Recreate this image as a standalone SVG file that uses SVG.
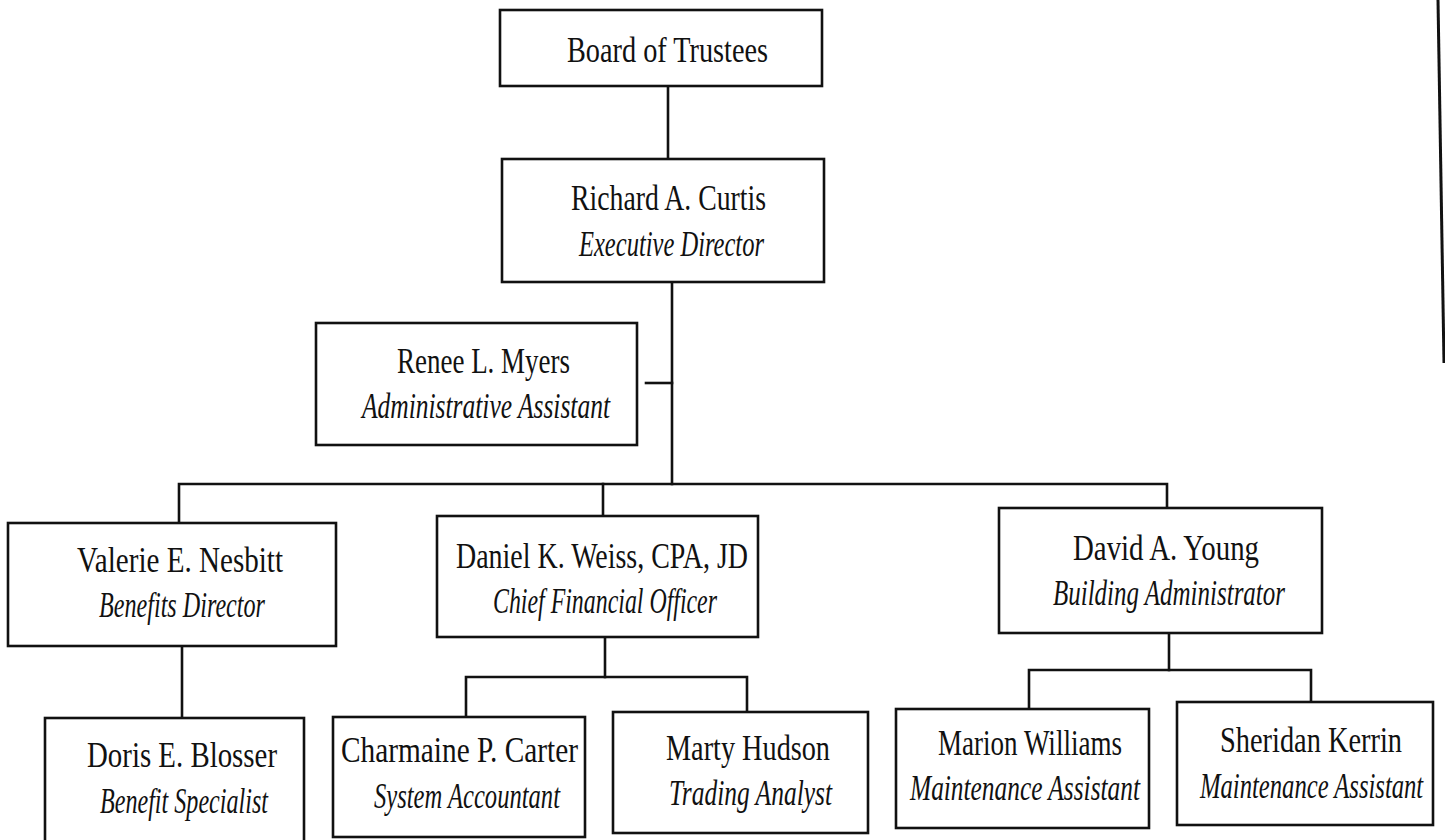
<svg xmlns="http://www.w3.org/2000/svg" width="1445" height="840" viewBox="0 0 1445 840">
<style>
.box{fill:#fff;stroke:#111;stroke-width:2.6}
.con{stroke:#111;stroke-width:2.6;fill:none;stroke-linecap:square}
.n{font-family:"Liberation Serif","Times New Roman",serif;font-size:35px;fill:#111}
.t{font-family:"Liberation Serif","Times New Roman",serif;font-size:35px;font-style:italic;fill:#111}
</style>
<rect width="1445" height="840" fill="#fff"/>
<g id="connectors">
<path class="con" d="M668,86V159"/>
<path class="con" d="M672,282V484"/>
<path class="con" d="M646,383H672"/>
<path class="con" d="M179,523V484H1167V508"/>
<path class="con" d="M603,484V516"/>
<path class="con" d="M182,646V718"/>
<path class="con" d="M605,637V677"/>
<path class="con" d="M466,717V677H747V712"/>
<path class="con" d="M1169,633V670"/>
<path class="con" d="M1029,709V670H1311V702"/>
</g>
<line x1="1438" y1="0" x2="1444" y2="363" stroke="#111" stroke-width="3"/>
<g id="board">
<rect class="box" x="500" y="10" width="322" height="76"/>
<text class="n" x="567" y="62" textLength="201" lengthAdjust="spacingAndGlyphs">Board of Trustees</text>
</g>
<g id="richard">
<rect class="box" x="502" y="159" width="322" height="123"/>
<text class="n" x="571" y="210" textLength="195" lengthAdjust="spacingAndGlyphs">Richard A. Curtis</text>
<text class="t" x="579" y="256" textLength="185" lengthAdjust="spacingAndGlyphs">Executive Director</text>
</g>
<g id="renee">
<rect class="box" x="316" y="323" width="321" height="122"/>
<text class="n" x="397" y="373" textLength="173" lengthAdjust="spacingAndGlyphs">Renee L. Myers</text>
<text class="t" x="362" y="418" textLength="248" lengthAdjust="spacingAndGlyphs">Administrative Assistant</text>
</g>
<g id="valerie">
<rect class="box" x="8" y="523" width="328" height="123"/>
<text class="n" x="77" y="572" textLength="206" lengthAdjust="spacingAndGlyphs">Valerie E. Nesbitt</text>
<text class="t" x="99" y="617" textLength="166" lengthAdjust="spacingAndGlyphs">Benefits Director</text>
</g>
<g id="daniel">
<rect class="box" x="437" y="516" width="321" height="121"/>
<text class="n" x="456" y="568" textLength="292" lengthAdjust="spacingAndGlyphs">Daniel K. Weiss, CPA, JD</text>
<text class="t" x="493" y="613" textLength="224" lengthAdjust="spacingAndGlyphs">Chief Financial Officer</text>
</g>
<g id="david">
<rect class="box" x="999" y="508" width="323" height="125"/>
<text class="n" x="1073" y="560" textLength="186" lengthAdjust="spacingAndGlyphs">David A. Young</text>
<text class="t" x="1053" y="605" textLength="232" lengthAdjust="spacingAndGlyphs">Building Administrator</text>
</g>
<g id="doris">
<rect class="box" x="45" y="718" width="259" height="130"/>
<text class="n" x="87" y="767" textLength="190" lengthAdjust="spacingAndGlyphs">Doris E. Blosser</text>
<text class="t" x="100" y="813" textLength="168" lengthAdjust="spacingAndGlyphs">Benefit Specialist</text>
</g>
<g id="charmaine">
<rect class="box" x="333" y="717" width="252" height="120"/>
<text class="n" x="341" y="762" textLength="237" lengthAdjust="spacingAndGlyphs">Charmaine P. Carter</text>
<text class="t" x="374" y="808" textLength="186" lengthAdjust="spacingAndGlyphs">System Accountant</text>
</g>
<g id="marty">
<rect class="box" x="613" y="712" width="255" height="121"/>
<text class="n" x="666" y="760" textLength="164" lengthAdjust="spacingAndGlyphs">Marty Hudson</text>
<text class="t" x="669" y="805" textLength="163" lengthAdjust="spacingAndGlyphs">Trading Analyst</text>
</g>
<g id="marion">
<rect class="box" x="896" y="709" width="253" height="119"/>
<text class="n" x="938" y="755" textLength="184" lengthAdjust="spacingAndGlyphs">Marion Williams</text>
<text class="t" x="910" y="800" textLength="230" lengthAdjust="spacingAndGlyphs">Maintenance Assistant</text>
</g>
<g id="sheridan">
<rect class="box" x="1177" y="702" width="256" height="123"/>
<text class="n" x="1220" y="752" textLength="182" lengthAdjust="spacingAndGlyphs">Sheridan Kerrin</text>
<text class="t" x="0" y="0" transform="translate(1200,798) scale(0.704,1)">Maintenance Assistant</text>
</g>
</svg>
